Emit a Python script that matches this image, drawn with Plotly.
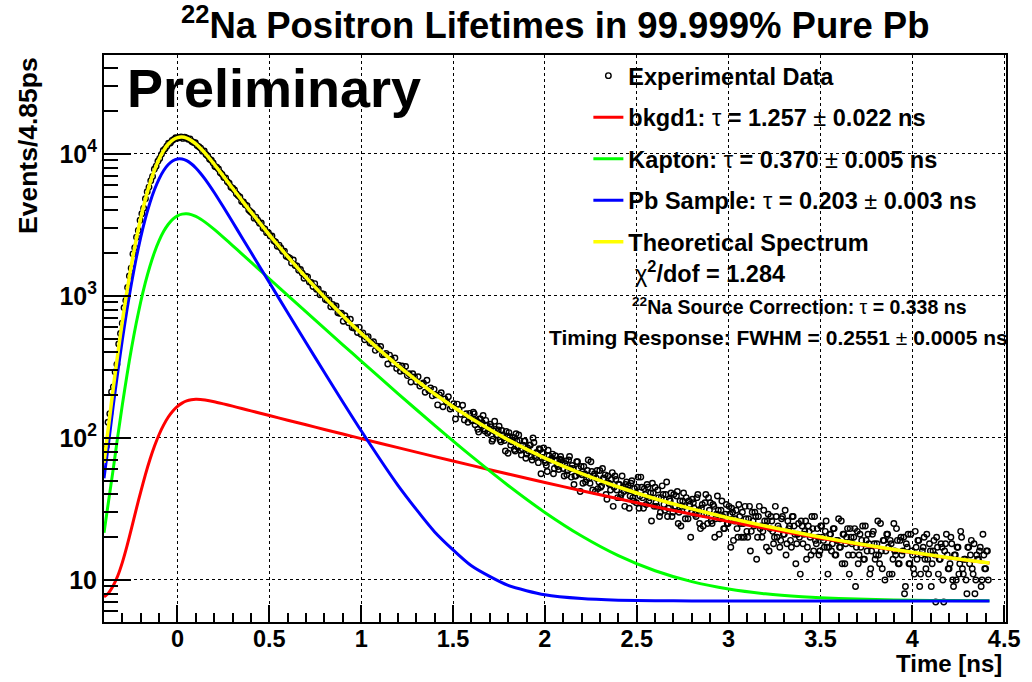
import plotly.graph_objects as go

# ---------------- data ----------------
bin_width = 0.00485          # ns per histogram bin (Events/4.85ps)
first_bin_center = -0.3976   # ns, centre of bin 0

# even-numbered bins (0, 2, 4, ... 992)
data_counts = [
    83, 87, 129, 148, 211, 229, 292, 330, 459, 544,
    643, 827, 929, 1148, 1383, 1566, 1979, 2189, 2596, 2888,
    3415, 3796, 4152, 4843, 5416, 5842, 6473, 6947, 7805, 8186,
    8885, 9281, 9938, 10584, 10867, 11355, 11901, 11941, 12462, 12677,
    13012, 12929, 13058, 13191, 12877, 13141, 12953, 12692, 12759, 12251,
    12051, 11984, 11454, 11232, 10989, 10466, 10486, 9915, 9670, 9191,
    9041, 8628, 8157, 8068, 7841, 7389, 7185, 6820, 6786, 6369,
    6226, 5840, 5734, 5583, 5247, 5090, 4978, 4631, 4589, 4395,
    4327, 4025, 3914, 3830, 3533, 3591, 3420, 3254, 3263, 3001,
    2970, 2791, 2792, 2645, 2642, 2444, 2400, 2237, 2279, 2179,
    2064, 2070, 1908, 1883, 1848, 1709, 1790, 1641, 1628, 1517,
    1537, 1446, 1333, 1377, 1364, 1256, 1245, 1165, 1221, 1115,
    1119, 1021, 1037, 1031, 944, 932, 938, 840, 871, 834,
    850, 761, 755, 757, 664, 726, 686, 647, 686, 599,
    595, 598, 553, 601, 537, 550, 492, 513, 517, 466,
    465, 476, 414, 442, 424, 441, 385, 387, 394, 332,
    383, 359, 335, 366, 309, 326, 295, 321, 297, 319,
    275, 283, 248, 283, 269, 249, 270, 232, 240, 244,
    210, 255, 216, 225, 198, 220, 201, 171, 201, 208,
    166, 188, 179, 195, 160, 165, 174, 136, 173, 159,
    147, 170, 134, 148, 129, 149, 134, 152, 124, 131,
    110, 136, 128, 116, 133, 108, 116, 120, 98, 131,
    105, 114, 97, 113, 100, 81, 103, 109, 89, 96,
    83, 107, 86, 96, 76, 89, 95, 77, 81, 89,
    70, 93, 73, 78, 84, 56, 79, 70, 64, 82,
    70, 72, 56, 75, 65, 60, 74, 67, 54, 69,
    59, 74, 53, 61, 54, 68, 61, 42, 55, 63,
    49, 59, 52, 68, 43, 56, 52, 44, 59, 46,
    52, 55, 37, 48, 43, 57, 45, 51, 38, 47,
    40, 45, 33, 49, 46, 39, 50, 36, 41, 45,
    32, 53, 38, 44, 34, 45, 38, 26, 41, 45,
    33, 38, 30, 46, 34, 40, 28, 37, 41, 30,
    33, 39, 25, 36, 33, 41, 27, 31, 36, 20,
    37, 32, 28, 40, 25, 32, 24, 35, 29, 38,
    35, 25, 33, 27, 39, 21, 31, 28, 23, 34,
    25, 29, 32, 19, 27, 23, 34, 25, 30, 20,
    27, 20, 33, 22, 26, 30, 14, 28, 23, 20,
    31, 24, 26, 16, 28, 22, 20, 28, 24, 17,
    27, 21, 31, 18, 23, 19, 28, 24, 13, 21,
    20, 26, 18, 22, 14, 24, 20, 28, 16, 19,
    23, 15, 24, 20, 17, 26, 11, 21, 16, 23,
    15, 19, 27, 17, 13, 21, 18, 23, 11, 20,
    15, 23, 17, 13, 21, 19, 14, 24, 16, 18,
    12, 21, 18, 15, 26, 13, 16, 19, 10, 21,
    17, 19, 11, 25, 15, 19, 13, 20, 16, 8,
    18, 21, 13, 16, 12, 22, 14, 19, 11, 16,
    20, 12, 14, 18, 9, 16, 15, 20, 11, 14,
    17, 7, 18, 15, 12, 20, 10, 15, 10, 17,
    13, 20, 11, 14, 8, 17, 15, 12, 18, 10,
    14, 16, 9, 21, 12, 16, 10,
]

# odd-numbered bins of the tail (413, 415, ... 991)
first_odd_bin = 413
data_counts_odd = [
    132, 148, 133, 115, 136, 123, 144, 112, 123, 111,
    125, 95, 112, 115, 105, 121, 94, 105, 96, 111,
    78, 102, 94, 101, 81, 95, 105, 82, 84, 95,
    72, 85, 89, 74, 100, 75, 79, 67, 83, 73,
    85, 67, 58, 75, 70, 77, 61, 70, 63, 71,
    70, 61, 66, 55, 70, 61, 64, 47, 54, 68,
    56, 63, 48, 56, 51, 70, 48, 58, 54, 42,
    59, 49, 45, 61, 52, 40, 54, 47, 51, 33,
    54, 43, 47, 38, 54, 42, 47, 43, 32, 48,
    38, 44, 35, 53, 39, 45, 32, 40, 47, 36,
    41, 48, 33, 35, 43, 28, 38, 40, 31, 49,
    32, 36, 28, 40, 33, 42, 30, 24, 36, 33,
    38, 27, 34, 30, 35, 29, 38, 31, 23, 34,
    29, 40, 25, 31, 26, 34, 20, 29, 31, 27,
    36, 23, 29, 25, 33, 17, 30, 26, 31, 20,
    28, 20, 25, 33, 22, 27, 16, 30, 24, 28,
    20, 33, 24, 22, 26, 17, 29, 23, 26, 18,
    33, 20, 23, 19, 28, 21, 15, 26, 24, 17,
    28, 21, 18, 25, 11, 24, 21, 26, 17, 22,
    15, 23, 28, 18, 20, 16, 24, 19, 22, 17,
    17, 21, 18, 23, 15, 19, 17, 26, 21, 13,
    20, 15, 23, 18, 20, 9, 22, 15, 17, 24,
    14, 19, 21, 11, 16, 22, 14, 18, 15, 25,
    12, 19, 16, 21, 11, 18, 14, 16, 23, 13,
    19, 15, 20, 9, 17, 13, 21, 15, 11, 17,
    19, 9, 15, 17, 14, 21, 11, 16, 13, 19,
    7, 17, 14, 18, 10, 16, 21, 12, 13, 18,
    9, 15, 17, 11, 22, 12, 14, 10, 17, 13,
    19, 11, 8, 15, 14, 17, 10, 15, 12, 16,
]

curve_time = [-0.40, -0.375, -0.35, -0.325, -0.30, -0.275, -0.25, -0.225, -0.20, -0.175,
              -0.15, -0.125, -0.10, -0.075, -0.05, -0.025, 0.0, 0.025, 0.05, 0.075,
              0.10, 0.125, 0.15, 0.20, 0.25, 0.30, 0.35, 0.40, 0.50, 0.60,
              0.70, 0.80, 0.90, 1.00, 1.20, 1.40, 1.60, 1.80, 2.00, 2.20,
              2.40, 2.60, 2.80, 3.00, 3.20, 3.40, 3.60, 3.80, 4.00, 4.20, 4.42]

bkgd1_curve = [7.6, 8.1, 9.1, 10.7, 13.3, 17.3, 23.2, 31.3, 41.8, 55.0,
               70.5, 87.7, 105.8, 123.6, 140.4, 155.0, 167.0, 176.0, 182.3, 185.7,
               187.0, 186.6, 185.1, 180.0, 173.8, 167.5, 161.2, 155.2, 143.9, 133.4,
               123.8, 114.8, 106.6, 99.0, 85.5, 73.9, 64.1, 55.7, 48.6, 42.5,
               37.3, 32.8, 29.05, 25.8, 23.1, 20.7, 18.7, 17.0, 15.55, 14.3, 13.15]

kapton_curve = [21.5, 36, 60.1, 103.1, 171.7, 276.9, 431, 639.5, 911, 1241,
                1620, 2033, 2452, 2851, 3199, 3476, 3667, 3771, 3790, 3739,
                3629, 3482, 3311, 2945, 2587, 2264, 1980, 1730, 1322, 1011,
                773, 592, 453, 347.7, 205.5, 122.6, 74.4, 46.3, 29.9, 20.4,
                14.84, 11.61, 9.73, 8.63, 7.99, 7.62, 7.40, 7.28, 7.20, 7.16, 7.13]

pb_curve = [52, 92, 168, 291, 494, 800, 1238, 1834, 2592, 3503,
            4536, 5623, 6686, 7645, 8422, 8954, 9218, 9210, 8967, 8534,
            7968, 7322, 6649, 5351, 4227, 3317, 2595, 2031, 1243, 762,
            468.6, 289, 179.4, 112.4, 46.4, 21.8, 12.58, 9.15, 7.86, 7.39,
            7.21, 7.14, 7.12, 7.1, 7.1, 7.1, 7.1, 7.1, 7.1, 7.1, 7.1]

theory_curve = [67, 122, 222.7, 390.6, 664.8, 1080, 1678, 2491, 3531, 4785,
                6212, 7730, 9230, 10605, 11747, 12571, 13038, 13143, 12925, 12445,
                11770, 10976, 10131, 8462, 6974, 5734, 4722, 3902, 2695, 1892,
                1351, 981.6, 724.8, 544.9, 323.2, 204.1, 136.9, 96.95, 72.2, 56.1,
                45.15, 37.35, 31.7, 27.33, 23.99, 21.22, 19.0, 17.18, 15.65, 14.36, 13.18]

y_tick_values = [10, 100, 1000, 10000]
y_tick_labels = ["10", "10<sup>2</sup>", "10<sup>3</sup>", "10<sup>4</sup>"]

# bin centres of the shown histogram bins
even_time = [first_bin_center + bin_width * 2 * k for k in range(len(data_counts))]
odd_time = [first_bin_center + bin_width * (first_odd_bin + 2 * j) for j in range(len(data_counts_odd))]
data_time = even_time + odd_time
data_all = data_counts + data_counts_odd

y_minor = [m * 10 ** e for e in range(0, 5) for m in range(2, 10) if 5 <= m * 10 ** e <= 50000]

FONT = "Liberation Sans, Arial, Helvetica, sans-serif"

fig = go.Figure()
fig.add_trace(go.Scatter(
    x=data_time, y=data_all, mode="markers", name="<b>Experimental Data</b>",
    legendgroup="a",
    marker=dict(symbol="circle-open", size=5.5, color="black", line=dict(width=1.4, color="black")),
))
curves = [
    (bkgd1_curve, "#ff0000", "<b>bkgd1:</b> τ <b>= 1.257</b> ± <b>0.022 ns</b>", 3),
    (kapton_curve, "#00ff00", "<b>Kapton:</b> τ <b>= 0.370</b> ± <b>0.005 ns</b>", 3),
    (pb_curve, "#0000ff", "<b>Pb Sample:</b> τ <b>= 0.203</b> ± <b>0.003 ns</b>", 3),
    (theory_curve, "#ffff00", "<b>Theoretical Spectrum</b><br> χ<b><sup>2</sup>/dof = 1.284</b>", 3.5),
]
for i, (vals, col, nm, w) in enumerate(curves):
    fig.add_trace(go.Scatter(
        x=curve_time, y=vals, mode="lines", name=nm, legendgroup="g%d" % i,
        line=dict(color=col, width=w, shape="spline", smoothing=0.6),
    ))

axis_common = dict(
    showline=True, linecolor="black", linewidth=2, mirror=True,
    ticks="inside", tickcolor="black", tickwidth=1.5,
    showgrid=True, gridcolor="black", gridwidth=1, griddash="dot",
    zeroline=False,
)

fig.update_layout(
    width=1032, height=682,
    margin=dict(l=104, r=20, t=55, b=60),
    plot_bgcolor="white", paper_bgcolor="white",
    font=dict(family=FONT, color="black"),
    xaxis=dict(range=[-0.4, 4.51], dtick=0.5, tick0=0, ticklen=17, ticklabelstandoff=-5,
               tickfont=dict(family=FONT, size=23.5, color="black", weight="bold"),
               minor=dict(dtick=0.1, tick0=0, ticks="inside", ticklen=9, tickwidth=1.5,
                          tickcolor="black", showgrid=False),
               **axis_common),
    yaxis=dict(type="log", range=[0.704, 4.697], tickmode="array",
               tickvals=y_tick_values, ticktext=y_tick_labels, ticklen=27,
               tickfont=dict(family=FONT, size=25, color="black", weight="bold"),
               minor=dict(tickmode="array", tickvals=y_minor, ticks="inside", ticklen=14,
                          tickwidth=1.5, tickcolor="black", showgrid=False),
               **axis_common),
    showlegend=True,
    legend=dict(x=0.537, y=1.002, xanchor="left", yanchor="top",
                bgcolor="rgba(0,0,0,0)", borderwidth=0,
                font=dict(family=FONT, size=23.5, color="black"),
                traceorder="grouped", tracegroupgap=8, valign="top"),
    annotations=[
        dict(text="<b><sup>22</sup>Na Positron Lifetimes in 99.999% Pure Pb</b>",
             xref="paper", yref="paper", x=0.5, y=1.056, xanchor="center", yanchor="middle",
             showarrow=False, font=dict(family=FONT, size=36.5, color="black")),
        dict(text="<b>Preliminary</b>", xref="paper", yref="paper", x=0.023, y=0.942,
             xanchor="left", yanchor="middle", showarrow=False,
             font=dict(family=FONT, size=54, color="black")),
        dict(text="<b>Events/4.85ps</b>", xref="paper", yref="paper", x=-0.0848, y=1.0,
             xanchor="center", yanchor="top", textangle=-90, showarrow=False,
             font=dict(family=FONT, size=26.5, color="black")),
        dict(text="<b>Time [ns]</b>", xref="paper", yref="paper", x=0.9978, y=-0.074,
             xanchor="right", yanchor="middle", showarrow=False,
             font=dict(family=FONT, size=24, color="black")),
        dict(text="<b><sup>22</sup>Na Source Correction:</b> τ <b>= 0.338 ns</b>",
             xref="paper", yref="paper", x=0.771, y=0.557, xanchor="center", yanchor="middle",
             showarrow=False, font=dict(family=FONT, size=19.5, color="black")),
        dict(text="<b>Timing Response: FWHM = 0.2551</b> ± <b>0.0005 ns</b>",
             xref="paper", yref="paper", x=1.0044, y=0.501, xanchor="right", yanchor="middle",
             showarrow=False, font=dict(family=FONT, size=21, color="black")),
    ],
)

fig.write_html("out.html", config={"displayModeBar": False},
               post_script="document.body.style.margin='0px';")
